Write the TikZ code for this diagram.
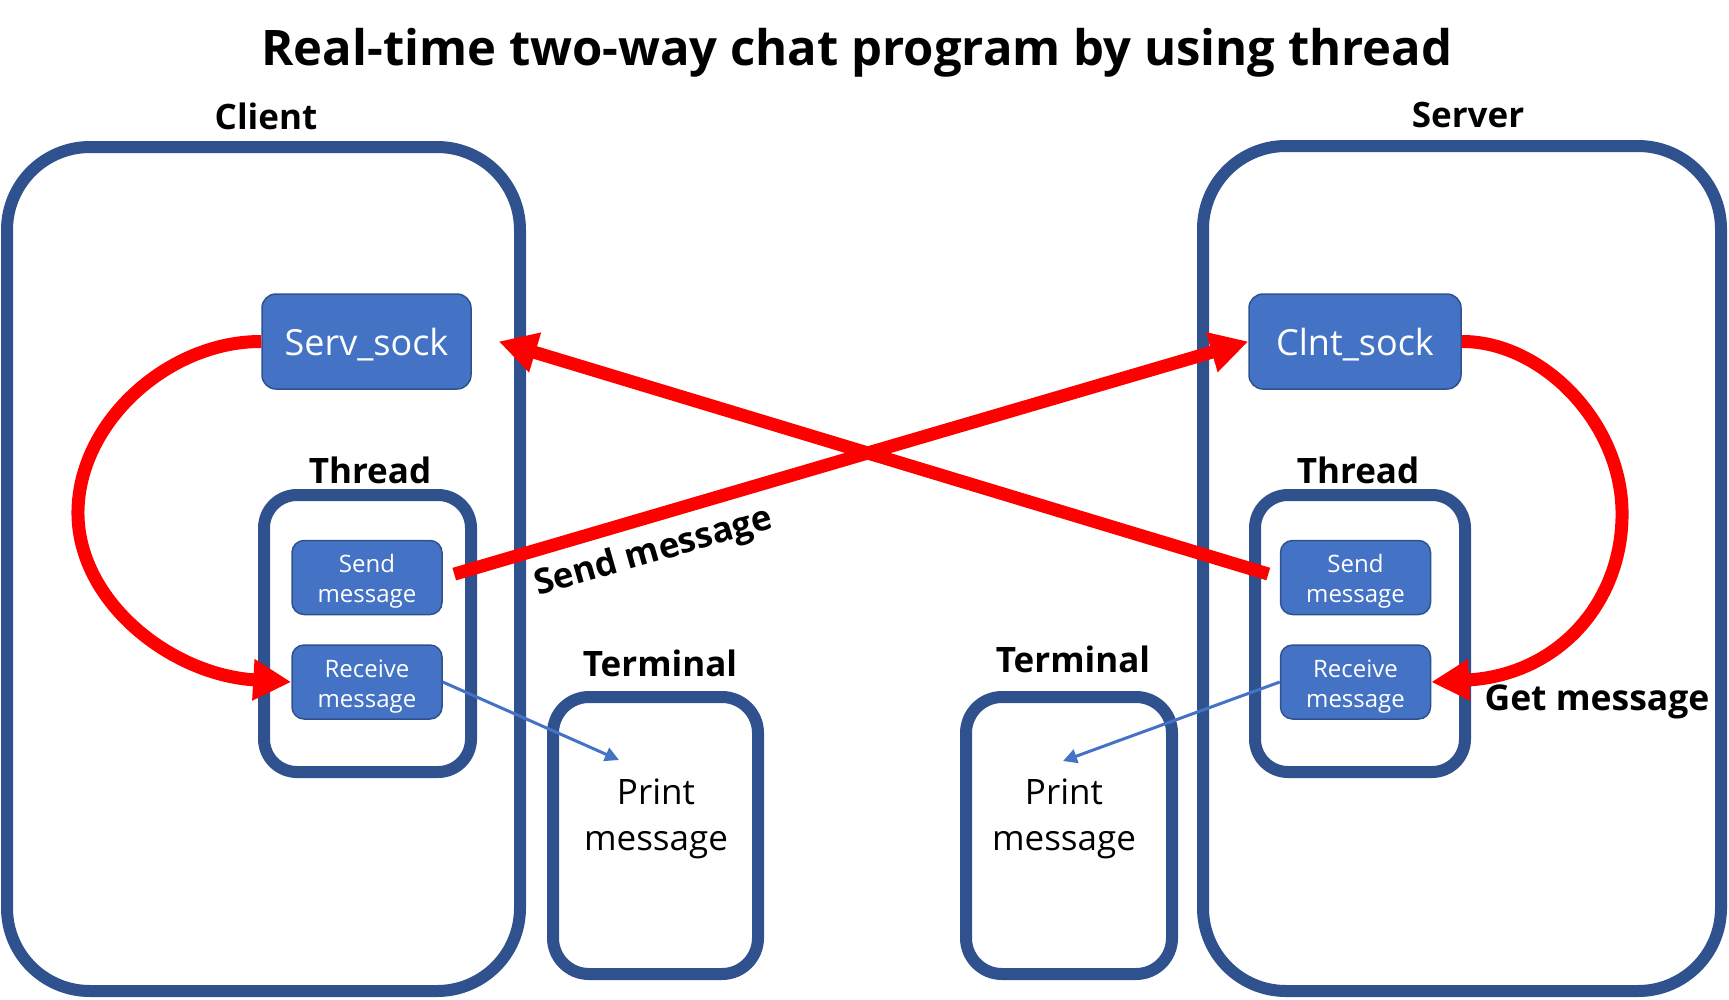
\documentclass[tikz,border=0pt]{standalone}
\usepackage{fontspec}
\setmainfont{Open Sans}
\usetikzlibrary{arrows.meta}
\definecolor{boxline}{RGB}{47,82,143}
\definecolor{sockfill}{RGB}{68,114,196}
\tikzset{every picture/.style={line width=0.75pt}}

\begin{document}
\begin{tikzpicture}[x=1pt,y=1pt,yscale=-1,xscale=1,
  frame/.style={draw=boxline, line width=12, rounded corners=#1},
  sock/.style={draw=boxline, fill=sockfill, line width=1.5, rounded corners=14, text=white, font=\fontsize{36}{40}\selectfont, text height=28, text depth=0, minimum width=209, minimum height=95, inner sep=0},
  msgbox/.style={draw=boxline, fill=sockfill, line width=1.5, rounded corners=12, text=white, align=center, font=\fontsize{24}{30}\selectfont, minimum width=150, minimum height=74, inner sep=0},
  label/.style={font=\bfseries\fontsize{35}{40}\selectfont, inner sep=0, anchor=base},
  redarrow/.style={draw=red, line width=13, -{Triangle[length=38, width=39]}},
  bluearrow/.style={draw=sockfill, line width=3, -{Triangle[length=14, width=14]}}
]
\useasboundingbox (0,0) rectangle (1729,999);

%Shape: Rounded Rect (client, server)
\draw [frame=83] (7,147) rectangle (520,991);
\draw [frame=83] (1203,146) rectangle (1721,991);
%Shape: Rounded Rect (threads)
\draw [frame=33] (264,495) rectangle (471,772);
\draw [frame=33] (1255,495) rectangle (1465,772);
%Shape: Rounded Rect (terminals)
\draw [frame=36] (553,697) rectangle (758,974);
\draw [frame=36] (966,697) rectangle (1172,974);

% Text Node
\node [label, font=\bfseries\fontsize{49}{56}\selectfont] (title) at (857,65) {Real-time two-way chat program by using thread};
% Text Node
\node [label] (client) at (266,129) {Client};
% Text Node
\node [label] (server) at (1468,127) {Server};
% Text Node
\node [label] (threadL) at (370,483) {Thread};
% Text Node
\node [label] (threadR) at (1358,483) {Thread};
% Text Node
\node [label] (termL) at (660,676) {Terminal};
% Text Node
\node [label] (termR) at (1073,672) {Terminal};
% Text Node
\node [label, font=\bfseries\fontsize{35.5}{40}\selectfont] (getmsg) at (1597,710) {Get message};
% Text Node
\node [label, anchor=center, rotate=16] (sendmsg) at (654,553) {Send message};
% Text Node
\node [align=center, font=\fontsize{35}{46}\selectfont, inner sep=0] (printL) at (656,819) {Print\\message};
% Text Node
\node [align=center, font=\fontsize{35}{46}\selectfont, inner sep=0] (printR) at (1064,819) {Print\\message};

%Shape: Sockets
\node [sock] (serv) at (366.5,341.5) {Serv\_sock};
\node [sock, minimum width=212] (clnt) at (1355,341.5) {Clnt\_sock};
%Shape: Thread jobs
\node [msgbox] (sendL) at (367,577.5) {\rule{0pt}{26pt}Send\\message};
\node [msgbox] (recvL) at (367,682) {\rule{0pt}{26pt}Receive\\message};
\node [msgbox] (sendR) at (1355.5,577.5) {\rule{0pt}{26pt}Send\\message};
\node [msgbox] (recvR) at (1355.5,682) {\rule{0pt}{26pt}Receive\\message};

\coordinate (printinL) at (619,760);
\coordinate (printinR) at (1063,761);

%Curve Lines
\draw [redarrow] (serv.west) .. controls (170,341) and (80,420) .. (78,510) .. controls (76,600) and (170,675) .. (recvL.west);
\draw [redarrow] (clnt.east) .. controls (1540,341) and (1620,420) .. (1622,510) .. controls (1624,600) and (1560,675) .. (recvR.east);
%Straight Lines
\draw [redarrow, shorten <=12] (sendL.east) -- (clnt.west);
\draw [redarrow, shorten <=12] (sendR.west) -- ([xshift=27]serv.east);
\draw [bluearrow] (recvL.east) -- (printinL);
\draw [bluearrow] (recvR.west) -- (printinR);

\end{tikzpicture}
\end{document}
